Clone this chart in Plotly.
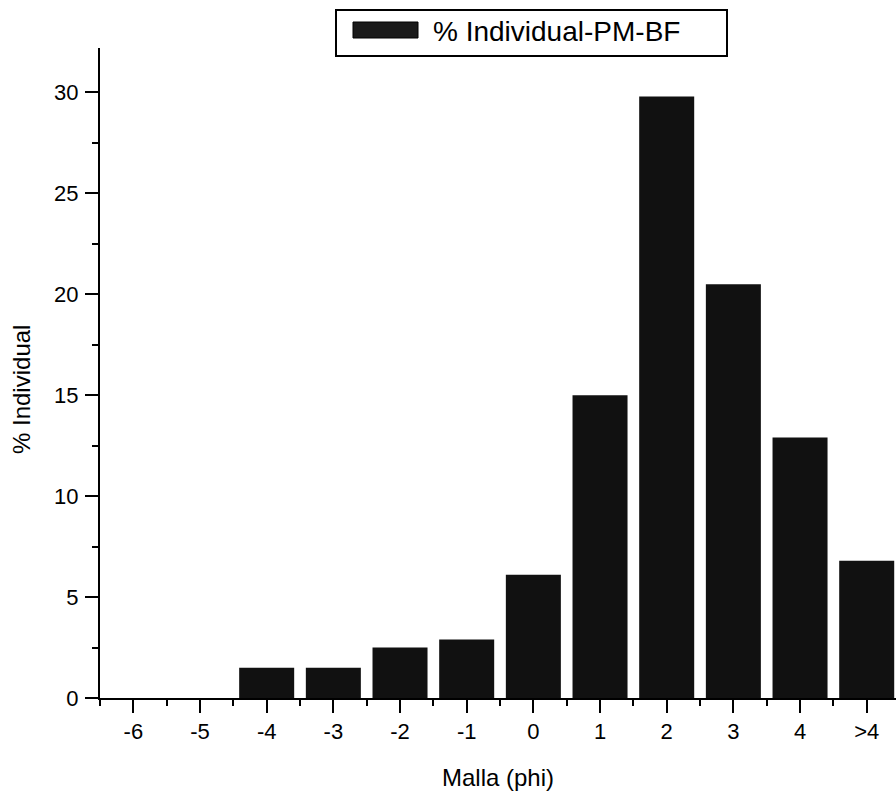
import plotly.graph_objects as go

categories = ["-6", "-5", "-4", "-3", "-2", "-1", "0", "1", "2", "3", "4", ">4"]
pct_individual = [0.0, 0.0, 1.5, 1.5, 2.5, 2.9, 6.1, 15.0, 29.8, 20.5, 12.9, 6.8]
series_name = "% Individual-PM-BF"
x_title = "Malla (phi)"
y_title = "% Individual"
y_ticks = [0, 5, 10, 15, 20, 25, 30]

positions = list(range(len(categories)))

FONT = "Liberation Sans, Arial, sans-serif"
BAR = "#111111"

fig = go.Figure()
fig.add_trace(go.Bar(
    x=positions, y=pct_individual, name=series_name,
    marker=dict(color=BAR, line=dict(width=0)),
    width=0.825, showlegend=False,
))

W, H = 896, 792
ml, mr, mt, mb = 100, 0, 48, 94
pw, ph = W - ml - mr, H - mt - mb

def px(xp):
    return (xp - ml) / pw

def py(yp):
    return (H - mb - yp) / ph

fig.update_layout(
    width=W, height=H,
    margin=dict(l=ml, r=mr, t=mt, b=mb, autoexpand=False),
    paper_bgcolor="white", plot_bgcolor="white",
    font=dict(family=FONT, color="black", size=22),
    bargap=0.175,
    xaxis=dict(
        range=[-0.5, -0.5 + pw / 66.67],
        tickmode="array", tickvals=positions, ticktext=categories,
        showgrid=False, zeroline=False,
        showline=True, linecolor="black", linewidth=2,
        ticks="outside", ticklen=13, tickwidth=2, tickcolor="black",
        tickfont=dict(size=22, family=FONT),
        minor=dict(tick0=0.5, dtick=1, ticks="outside", ticklen=6, tickwidth=2, tickcolor="black", showgrid=False),
        title=dict(text=x_title, font=dict(size=24, family=FONT), standoff=26),
        automargin=False,
    ),
    yaxis=dict(
        range=[0, 32.2],
        tickmode="array", tickvals=y_ticks,
        showgrid=False, zeroline=False,
        showline=True, linecolor="black", linewidth=2,
        ticks="outside", ticklen=13, tickwidth=2, tickcolor="black",
        tickfont=dict(size=22, family=FONT),
        ticklabelstandoff=2,
        minor=dict(tick0=2.5, dtick=5, ticks="outside", ticklen=6, tickwidth=2, tickcolor="black", showgrid=False),
        automargin=False,
    ),
)

# y-axis title placed as annotation
fig.add_annotation(xref="paper", yref="paper", x=px(21), y=py(390),
                   xanchor="center", yanchor="middle", showarrow=False, textangle=-90,
                   text=y_title, font=dict(size=24, family=FONT, color="black"))

# legend box drawn as layout decoration
fig.add_shape(type="rect", xref="paper", yref="paper",
              x0=px(336), x1=px(727), y0=py(56), y1=py(10),
              line=dict(color="black", width=2), fillcolor="white", layer="above")
fig.add_shape(type="rect", xref="paper", yref="paper",
              x0=px(353), x1=px(418), y0=py(38), y1=py(22),
              line=dict(color="black", width=1), fillcolor="#1a1a1a", layer="above")
fig.add_annotation(xref="paper", yref="paper", x=px(431), y=py(32),
                   xanchor="left", yanchor="middle", showarrow=False,
                   text=series_name, font=dict(size=28, family=FONT, color="black"))

fig.write_html(
    "out.html",
    config={"displayModeBar": False},
    post_script="document.body.style.margin='0';document.body.style.overflow='hidden';",
)
